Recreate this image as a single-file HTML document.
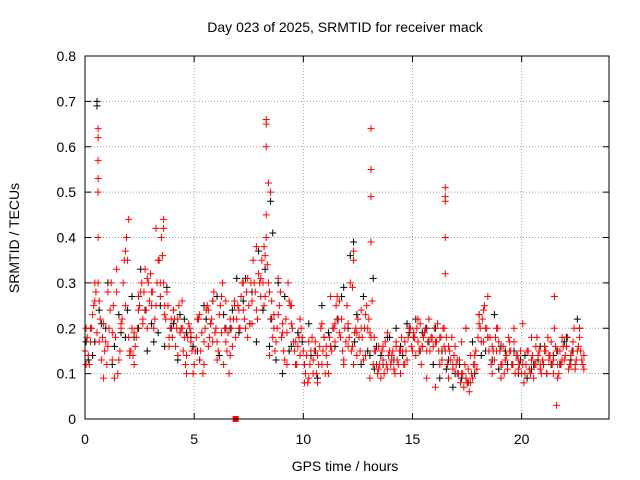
<!DOCTYPE html>
<html><head><meta charset="utf-8"><style>
body{margin:0;background:#fff}
svg{display:block;font-family:"Liberation Sans",sans-serif}
</style></head><body>
<svg id="chart" width="640" height="480" viewBox="0 0 640 480"></svg>
<script>
const redA=[0.15,0.18,0.12,0.2,0.25,0.28,0.3,0.22,0.18,0.15,
0.12,0.2,0.3,0.25,0.18,0.1,0.15,0.22,0.35,0.4,
0.18,0.15,0.14,0.16,0.2,0.25,0.3,0.28,0.24,0.3,
0.32,0.28,0.22,0.3,0.35,0.4,0.3,0.22,0.25,0.2,
0.18,0.22,0.2,0.25,0.2,0.15,0.12,0.18,0.2,0.15,
0.12,0.18,0.22,0.15,0.1,0.2,0.25,0.18,0.22,0.28,
0.2,0.15,0.25,0.3,0.2,0.15,0.1,0.2,0.22,0.18,
0.25,0.2,0.3,0.22,0.28,0.25,0.3,0.35,0.28,0.22,
0.3,0.35,0.25,0.4,0.3,0.22,0.18,0.15,0.2,0.25,
0.18,0.15,0.22,0.3,0.25,0.2,0.15,0.12,0.18,0.2,
0.15,0.1,0.08,0.12,0.18,0.15,0.1,0.12,0.2,0.15,
0.1,0.12,0.18,0.15,0.2,0.25,0.22,0.18,0.15,0.2,
0.25,0.18,0.15,0.12,0.2,0.22,0.15,0.18,0.2,0.25,
0.22,0.18,0.12,0.15,0.1,0.12,0.15,0.1,0.12,0.14,
0.12,0.15,0.1,0.13,0.15,0.18,0.12,0.15,0.18,0.2,
0.15,0.18,0.2,0.15,0.12,0.18,0.2,0.17,0.15,0.18,
0.2,0.17,0.15,0.18,0.2,0.15,0.12,0.15,0.18,0.14,
0.12,0.1,0.08,0.1,0.12,0.08,0.06,0.1,0.12,0.15,
0.18,0.2,0.22,0.25,0.2,0.15,0.12,0.15,0.18,0.2,
0.15,0.12,0.1,0.14,0.18,0.15,0.12,0.1,0.14,0.12,
0.1,0.08,0.12,0.15,0.1,0.14,0.12,0.18,0.15,0.1,
0.12,0.15,0.18,0.14,0.12,0.2,0.15,0.1,0.12,0.16,
0.14,0.18,0.12,0.15,0.2,0.13,0.16,0.15,0.12];
const redC=[0.2,0.14,0.17,0.23,0.3,0.19,0.26,0.13,0.21,0.17,
0.16,0.24,0.19,0.09,0.28,0.13,0.21,0.3,0.25,0.35,
0.15,0.2,0.12,0.18,0.24,0.28,0.21,0.33,0.2,0.26,
0.28,0.2,0.25,0.35,0.3,0.36,0.25,0.28,0.18,0.22,
0.24,0.16,0.22,0.19,0.26,0.18,0.14,0.21,0.17,0.1,
0.15,0.22,0.13,0.19,0.17,0.24,0.16,0.21,0.26,0.19,
0.17,0.23,0.19,0.12,0.26,0.19,0.14,0.16,0.25,0.22,
0.2,0.27,0.24,0.2,0.31,0.21,0.26,0.3,0.24,0.32,
0.27,0.3,0.36,0.34,0.28,0.26,0.2,0.17,0.23,0.28,
0.21,0.13,0.19,0.26,0.21,0.17,0.12,0.16,0.14,0.18,
0.12,0.14,0.09,0.15,0.13,0.17,0.08,0.16,0.12,0.18,
0.14,0.1,0.16,0.2,0.17,0.27,0.19,0.22,0.12,0.17,
0.21,0.3,0.16,0.19,0.14,0.18,0.2,0.13,0.23,0.2,
0.19,0.26,0.15,0.12,0.16,0.09,0.13,0.17,0.11,0.15,
0.14,0.11,0.16,0.12,0.1,0.15,0.17,0.13,0.2,0.16,
0.18,0.14,0.17,0.21,0.16,0.19,0.15,0.22,0.18,0.16,
0.17,0.21,0.18,0.13,0.16,0.18,0.16,0.13,0.12,0.16,
0.1,0.13,0.1,0.07,0.09,0.11,0.08,0.09,0.14,0.11,
0.21,0.17,0.24,0.2,0.27,0.18,0.16,0.13,0.2,0.17,
0.12,0.16,0.13,0.11,0.15,0.12,0.17,0.14,0.11,0.15,
0.12,0.1,0.15,0.11,0.13,0.09,0.16,0.14,0.12,0.13,
0.15,0.1,0.14,0.17,0.13,0.16,0.12,0.15,0.18,0.13,
0.16,0.11,0.14,0.17,0.12,0.15,0.18,0.13,0.11];
const redB=[0.12,0.2,0.26,0.17,0.09,0.28,0.13,0.33,0.2,0.37,
0.14,0.19,0.27,0.22,0.31,0.25,0.42,0.27,0.23,0.16,
0.24,0.14,0.2,0.1,0.19,0.15,0.23,0.12,0.24,0.17,
0.13,0.27,0.17,0.22,0.26,0.24,0.3,0.18,0.21,0.38,
0.31,0.27,0.14,0.23,0.31,0.19,0.12,0.25,0.17,0.22,
0.08,0.17,0.1,0.14,0.21,0.16,0.27,0.21,0.26,0.13,
0.16,0.29,0.19,0.24,0.14,0.09,0.18,0.11,0.16,0.19,
0.13,0.17,0.15,0.12,0.2,0.19,0.22,0.16,0.09,0.18,
0.07,0.12,0.2,0.09,0.11,0.13,0.17,0.2,0.14,0.12,
0.23,0.17,0.18,0.1,0.15,0.09,0.13,0.17,0.2,0.13,
0.21,0.15,0.18,0.12,0.11,0.16,0.13,0.1,0.09,0.13,
0.16,0.12,0.11,0.2,0.14];
const black=[0.13,0.17,0.21,0.3,0.16,0.19,0.24,0.18,0.33,0.15,
0.17,0.25,0.29,0.21,0.23,0.19,0.16,0.13,0.22,0.26,
0.14,0.2,0.24,0.19,0.31,0.28,0.37,0.33,0.22,0.3,
0.27,0.16,0.19,0.12,0.14,0.09,0.18,0.16,0.22,0.29,
0.36,0.23,0.27,0.14,0.16,0.12,0.18,0.2,0.14,0.19,
0.22,0.19,0.17,0.2,0.15,0.13,0.1,0.09,0.08,0.1,
0.14,0.18,0.23,0.16,0.12,0.15,0.13,0.09,0.12,0.16,
0.1,0.14,0.12,0.18,0.15,0.2];
const black2=[0.17,0.14,0.24,0.2,0.12,0.23,0.18,0.27,0.2,0.24,
0.21,0.19,0.16,0.2,0.13,0.22,0.18,0.15,0.25,0.21,
0.27,0.23,0.2,0.31,0.26,0.21,0.17,0.24,0.16,0.13,
0.1,0.15,0.12,0.17,0.21,0.15,0.25,0.19,0.16,0.27,
0.2,0.17,0.12,0.15,0.11,0.14,0.18,0.13,0.16,0.21,
0.18,0.15,0.2,0.12,0.09,0.11,0.07,0.12,0.2,0.17,
0.23,0.15,0.13,0.11,0.15,0.12,0.1,0.14,0.11,0.13,
0.16,0.12,0.15,0.17,0.13,0.22];
const spikeT=[0.6,0.6,0.6,0.6,0.6,0.6,8.3,8.3,8.3,8.4,8.5,8.3,8.2,13.1,13.1,13.1,13.1,16.5,16.5,16.5,16.5,16.5,2.0,3.6,3.6,21.6,21.5,12.3,12.3];
const spikeV=[0.64,0.62,0.57,0.53,0.5,0.4,0.66,0.65,0.6,0.52,0.5,0.45,0.38,0.64,0.55,0.49,0.39,0.51,0.49,0.48,0.4,0.32,0.44,0.44,0.42,0.03,0.27,0.37,0.35];
const blackSpikeT=[0.55,0.55,8.5,8.6,13.2,12.3];
const blackSpikeV=[0.7,0.69,0.48,0.41,0.31,0.39];
const xTicks=[0,5,10,15,20];
const yTicks=[0,0.1,0.2,0.3,0.4,0.5,0.6,0.7,0.8];

const L=85,R=609,T=56,B=419,XMAX=24,YMAX=0.8;
const X=h=>L+h/XMAX*(R-L);
const Y=v=>B-v/YMAX*(B-T);
const svg=document.getElementById('chart');
const NS='http://www.w3.org/2000/svg';
function mk(tag,attrs,parent){const e=document.createElementNS(NS,tag);for(const k in attrs)e.setAttribute(k,attrs[k]);(parent||svg).appendChild(e);return e;}

const grid=mk('g',{});


yTicks.forEach(v=>{
  if(v>0&&v<YMAX) mk('line',{x1:L,x2:R,y1:Y(v),y2:Y(v),stroke:'#a0a0a0','stroke-dasharray':'1,2'},grid);
  mk('line',{x1:L,x2:L+6,y1:Y(v),y2:Y(v),stroke:'#000'},grid);
  mk('line',{x1:R,x2:R-6,y1:Y(v),y2:Y(v),stroke:'#000'},grid);
  const t=mk('text',{x:L-9,y:Y(v)+5,'text-anchor':'end','font-size':14,fill:'#000'});
  t.textContent=String(v);
  
  
});
xTicks.forEach(h=>{
  if(h>0) mk('line',{x1:X(h),x2:X(h),y1:T,y2:B,stroke:'#a0a0a0','stroke-dasharray':'1,2'},grid);
  mk('line',{x1:X(h),x2:X(h),y1:B,y2:B-6,stroke:'#000'},grid);
  mk('line',{x1:X(h),x2:X(h),y1:T,y2:T+6,stroke:'#000'},grid);
  const t=mk('text',{x:X(h),y:B+25,'text-anchor':'middle','font-size':14,fill:'#000'});
  t.textContent=String(h);
  
  
});

function plus(h,v,color,g){
  const x=X(h),y=Y(v);
  mk('path',{d:`M${x-3.5},${y}h7M${x},${y-3.5}v7`,stroke:color,'stroke-width':1,fill:'none'},g);
}
const gB=mk('g',{});


black.forEach((v,i)=>plus(0.15+i*0.3,v,'#000',gB));
black2.forEach((v,i)=>plus(0.05+i*0.3,v,'#000',gB));
blackSpikeT.forEach((h,i)=>plus(h,blackSpikeV[i],'#000',gB));
const gR=mk('g',{});


redA.forEach((v,i)=>plus(i*0.1,v,'#f00',gR));
redC.forEach((v,i)=>plus(0.05+i*0.1,v,'#f00',gR));
redB.forEach((v,i)=>plus(0.05+i*0.2,v,'#f00',gR));
spikeT.forEach((h,i)=>plus(h,spikeV[i],'#f00',gR));
const sq=mk('rect',{x:X(6.9)-3,y:Y(0)-3,width:6,height:6,fill:'#f00'});



const border=mk('rect',{x:L,y:T,width:R-L,height:B-T,fill:'none',stroke:'#000'});



const title=mk('text',{x:345,y:32,'text-anchor':'middle','font-size':14,fill:'#000'});
title.textContent='Day 023 of 2025, SRMTID for receiver mack';


const xl=mk('text',{x:345,y:471,'text-anchor':'middle','font-size':14,fill:'#000'});
xl.textContent='GPS time / hours';


const yl=mk('text',{x:19,y:238,'text-anchor':'middle','font-size':14,fill:'#000',transform:'rotate(-90 19 238)'});
yl.textContent='SRMTID / TECUs';


</script>
</body></html>
